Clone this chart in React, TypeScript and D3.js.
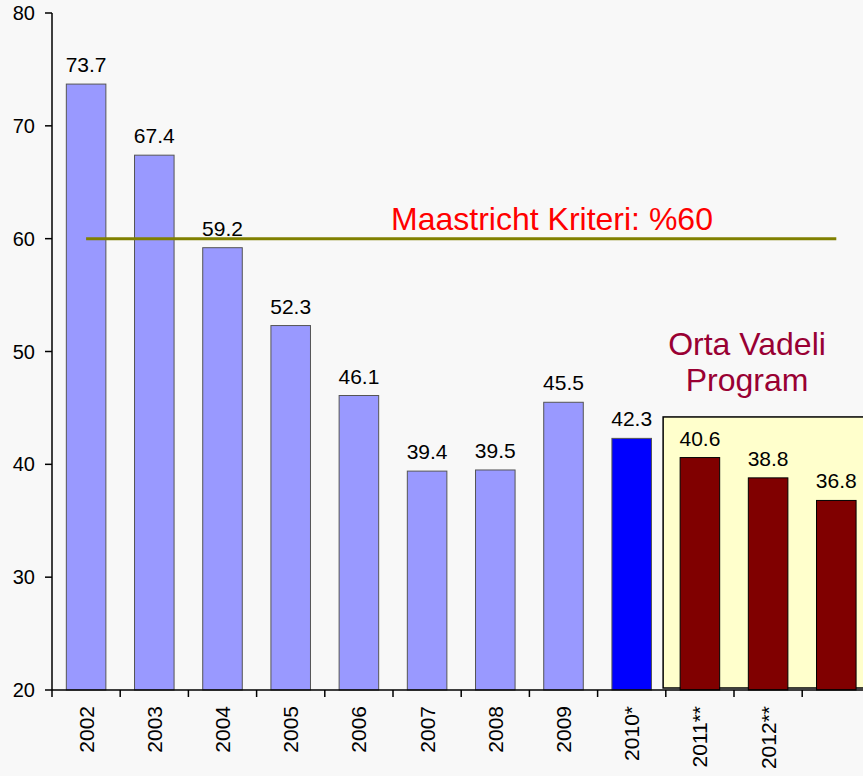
import React, { useEffect } from 'react';
import * as d3 from 'd3';

const categories = ['2002', '2003', '2004', '2005', '2006', '2007', '2008', '2009', '2010*', '2011**', '2012**', '2013**'];
const tickLabels = ['2002', '2003', '2004', '2005', '2006', '2007', '2008', '2009', '2010*', '2011**', '2012**', ''];
const values = [73.7, 67.4, 59.2, 52.3, 46.1, 39.4, 39.5, 45.5, 42.3, 40.6, 38.8, 36.8];
const kind = ['actual', 'actual', 'actual', 'actual', 'actual', 'actual', 'actual', 'actual', 'estimate', 'program', 'program', 'program'];
const yTicks = [20, 30, 40, 50, 60, 70, 80];
const maastricht = 60;
const programTop = 44.2;

const width = 863;
const height = 776;
const font = '"Liberation Sans", Arial, sans-serif';

const fills: Record<string, string> = { actual: '#9999ff', estimate: '#0000ff', program: '#800000' };
const strokes: Record<string, string> = { actual: '#555555', estimate: '#555555', program: '#000000' };

function App() {
    useEffect(() => {
        document.body.style.margin = '0';
    }, []);

    const x = d3.scaleBand<string>()
        .domain(categories)
        .range([52, 52 + 12 * 68.2])
        .paddingInner(0.42)
        .paddingOuter(0.21);
    const y = d3.scaleLinear().domain([20, 80]).range([690, 13]);
    const bw = x.bandwidth();
    const cx = (c: string) => (x(c) ?? 0) + bw / 2;
    const step = x.step();

    const boxX = (x('2011**') ?? 0) - 17;

    return (
        <svg width={width} height={height} style={{ display: 'block', background: '#f8f8f8' }} fontFamily={font}>
            {/* program box */}
            <rect x={boxX} y={y(programTop)} width={width - boxX + 10} height={y(20) - 2 - y(programTop)}
                fill="#ffffcc" stroke="#000" strokeWidth={1.5} />

            {/* bars */}
            {categories.map((c, i) => (
                <g key={c}>
                    <rect x={x(c)} y={y(values[i])} width={bw} height={y(20) - y(values[i])}
                        fill={fills[kind[i]]} stroke={strokes[kind[i]]} strokeWidth={1} />
                    <text x={cx(c)} y={y(values[i]) - 12} textAnchor="middle" fontSize={21} fill="#000">
                        {values[i].toFixed(1)}
                    </text>
                </g>
            ))}

            {/* Maastricht line */}
            <line x1={cx(categories[0])} x2={cx(categories[categories.length - 1])} y1={y(maastricht)} y2={y(maastricht)}
                stroke="#808000" strokeWidth={3} />
            <text x={552} y={y(maastricht) - 9} textAnchor="middle" fontSize={32} fill="#ff0000">
                Maastricht Kriteri: %{maastricht}
            </text>

            <text x={747} y={355} textAnchor="middle" fontSize={32} fill="#990033">Orta Vadeli</text>
            <text x={747} y={391} textAnchor="middle" fontSize={32} fill="#990033">Program</text>

            {/* y axis */}
            <line x1={52} x2={52} y1={y(80)} y2={y(20)} stroke="#000" strokeWidth={1.5} />
            {yTicks.map((t) => (
                <g key={t}>
                    <line x1={45} x2={52} y1={y(t)} y2={y(t)} stroke="#000" strokeWidth={1.5} />
                    <text x={35} y={y(t)} dy="0.35em" textAnchor="end" fontSize={20} fill="#000">{t}</text>
                </g>
            ))}

            {/* x axis */}
            <line x1={52} x2={width} y1={y(20)} y2={y(20)} stroke="#000" strokeWidth={1.5} />
            {categories.map((c, i) => (
                <g key={'t' + c}>
                    <line x1={52 + i * step} x2={52 + i * step} y1={y(20)} y2={y(20) + 7} stroke="#000" strokeWidth={1.5} />
                    <text transform={`translate(${cx(c)},706) rotate(-90)`} dy="0.36em" textAnchor="end" fontSize={21} fill="#000">
                        {tickLabels[i]}
                    </text>
                </g>
            ))}
            <line x1={52 + 12 * step} x2={52 + 12 * step} y1={y(20)} y2={y(20) + 7} stroke="#000" strokeWidth={1.5} />
        </svg>
    );
}

export default App;
